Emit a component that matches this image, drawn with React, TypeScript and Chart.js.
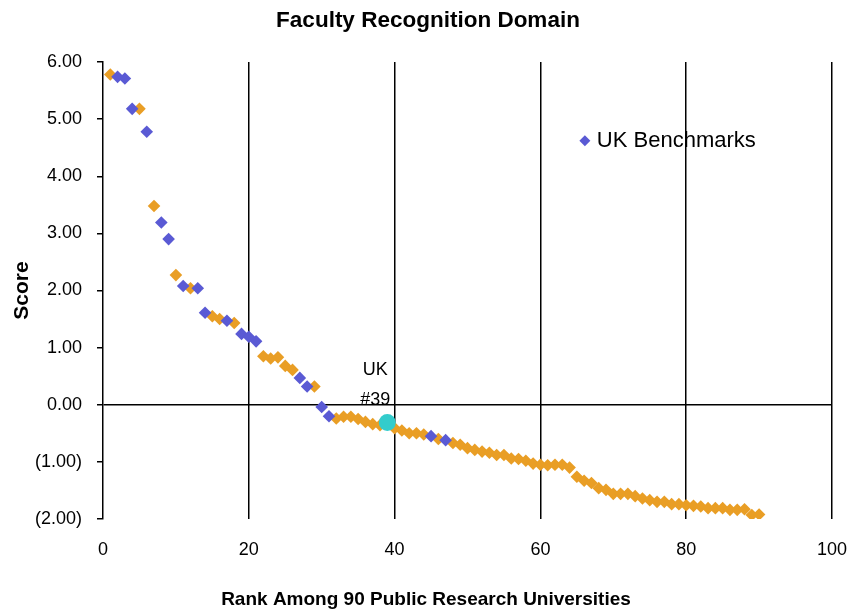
import React, { useEffect, useRef } from "react";
import { Chart, registerables } from "chart.js";

Chart.register(...registerables);

const chartTitle = "Faculty Recognition Domain";
const xTitle = "Rank Among 90 Public Research Universities";
const yTitle = "Score";
const legendLabel = "UK Benchmarks";
const ukLabelLines = ["UK", "#39"];

const ranks: number[] = Array.from({ length: 90 }, (_, i) => i + 1);

const scores: number[] = [
  5.78, 5.74, 5.71, 5.18, 5.18, 4.78, 3.48, 3.19, 2.9, 2.27,
  2.08, 2.04, 2.04, 1.61, 1.55, 1.5, 1.47, 1.43, 1.24, 1.19,
  1.11, 0.85, 0.81, 0.83, 0.68, 0.61, 0.47, 0.32, 0.32, -0.04,
  -0.2, -0.24, -0.21, -0.21, -0.25, -0.3, -0.34, -0.36, -0.31, -0.41,
  -0.45, -0.5, -0.5, -0.52, -0.55, -0.6, -0.62, -0.67, -0.7, -0.76,
  -0.79, -0.82, -0.84, -0.88, -0.88, -0.94, -0.95, -0.98, -1.03, -1.05,
  -1.06, -1.05, -1.05, -1.1, -1.26, -1.33, -1.37, -1.46, -1.49, -1.56,
  -1.56, -1.56, -1.6, -1.64, -1.67, -1.7, -1.7, -1.74, -1.74, -1.76,
  -1.77, -1.78, -1.81, -1.81, -1.81, -1.84, -1.84, -1.83, -1.93, -1.92,
];

const benchmarkRanks: number[] = [2, 3, 4, 6, 8, 9, 11, 13, 14, 17, 19, 20, 21, 27, 28, 30, 31, 45, 47];
const ukRank = 39;

const xTicks = { min: 0, max: 100, step: 20 };
const yTicks = { min: -2, max: 6, step: 1 };

const ORANGE = "#E99E25";
const BLUE = "#5A5AD4";
const CYAN = "#33CCCC";
const FONT = "'Liberation Sans', Arial, sans-serif";

const fmt = (v: number) => (v < 0 ? `(${Math.abs(v).toFixed(2)})` : v.toFixed(2));

export default function App() {
  const ref = useRef<HTMLCanvasElement | null>(null);

  useEffect(() => {
    if (!ref.current) return;
    Chart.defaults.font.family = FONT;
    const pts = ranks.map((r, i) => ({ x: r, y: scores[i] }));
    const uk = pts.filter((p) => p.x === ukRank);
    const bench = pts.filter((p) => benchmarkRanks.includes(p.x) && p.x !== ukRank);
    const others = pts.filter((p) => !benchmarkRanks.includes(p.x) && p.x !== ukRank);

    const overlay = {
      id: "overlay",
      afterDatasetsDraw(chart: any) {
        const { ctx, scales } = chart;
        const xs = scales.x;
        const ys = scales.y;
        ctx.save();
        // chart title
        ctx.fillStyle = "#000";
        ctx.textBaseline = "middle";
        ctx.textAlign = "center";
        ctx.font = `bold 22.5px ${FONT}`;
        ctx.fillText(chartTitle, chart.width / 2 + 2, 21);
        // UK label
        const up = uk[0];
        const px = xs.getPixelForValue(up.x);
        const py = ys.getPixelForValue(up.y);
        ctx.font = `18px ${FONT}`;
        ctx.fillText(ukLabelLines[0], px - 12, py - 52);
        ctx.fillText(ukLabelLines[1], px - 12, py - 22);
        // legend
        const lx = xs.getPixelForValue(66.1);
        const ly = ys.getPixelForValue(4.62);
        const r = 5.5;
        ctx.fillStyle = BLUE;
        ctx.beginPath();
        ctx.moveTo(lx - r, ly);
        ctx.lineTo(lx, ly - r);
        ctx.lineTo(lx + r, ly);
        ctx.lineTo(lx, ly + r);
        ctx.closePath();
        ctx.fill();
        ctx.fillStyle = "#000";
        ctx.font = `22px ${FONT}`;
        ctx.textAlign = "left";
        ctx.fillText(legendLabel, lx + 12, ly);
        // x axis title, centred on the canvas
        ctx.font = `bold 19px ${FONT}`;
        ctx.textAlign = "center";
        ctx.fillText(xTitle, chart.width / 2, chart.height - 15);
        ctx.restore();
      },
    };

    const chart = new Chart(ref.current, {
      type: "scatter",
      data: {
        datasets: [
          { label: "UK", data: uk, pointStyle: "circle", pointRadius: 8.5, pointHoverRadius: 8.5, backgroundColor: CYAN, borderWidth: 0 },
          { label: legendLabel, data: bench, pointStyle: "rectRot", pointRadius: 6.3, pointHoverRadius: 6.3, backgroundColor: BLUE, borderWidth: 0 },
          { label: "Other", data: others, pointStyle: "rectRot", pointRadius: 6.3, pointHoverRadius: 6.3, backgroundColor: ORANGE, borderWidth: 0 },
        ],
      },
      options: {
        animation: false,
        responsive: false,
        layout: { padding: { left: 0, right: 20, top: 62, bottom: 0 } },
        plugins: {
          legend: { display: false },
          tooltip: { enabled: false },
          title: { display: false, text: chartTitle },
        },
        scales: {
          x: {
            type: "linear",
            min: xTicks.min,
            max: xTicks.max,
            afterFit: (s: any) => { s.height = 96; s.paddingRight = 0; s.paddingLeft = 0; },
            ticks: { stepSize: xTicks.step, color: "#000", font: { size: 18 }, padding: 20 },
            grid: {
              color: (c: any) => (c.tick && c.tick.value === 0 ? "rgba(0,0,0,0)" : "#000"),
              lineWidth: 1.5,
              drawTicks: false,
            },
            border: { display: false },
            title: { display: false, text: xTitle },
          },
          y: {
            type: "linear",
            min: yTicks.min,
            max: yTicks.max,
            afterFit: (s: any) => { s.width = 103; s.paddingTop = 0; s.paddingBottom = 0; },
            ticks: { stepSize: yTicks.step, color: "#000", font: { size: 18 }, padding: 15, callback: (v: any) => fmt(Number(v)) },
            grid: {
              color: (c: any) => (c.tick && c.tick.value === 0 ? "#000" : "rgba(0,0,0,0)"),
              tickColor: "#000",
              tickLength: 6,
              lineWidth: 1.5,
            },
            border: { display: true, color: "#000", width: 1.5 },
            title: { display: true, text: yTitle, color: "#000", font: { size: 21, weight: "bold" }, padding: { top: 10, bottom: 0 } },
          },
        },
      },
      plugins: [overlay],
    });
    return () => chart.destroy();
  }, []);

  return (
    <canvas
      ref={ref}
      width={852}
      height={615}
      style={{ position: "absolute", left: 0, top: 0, display: "block", width: 852, height: 615 }}
    />
  );
}
